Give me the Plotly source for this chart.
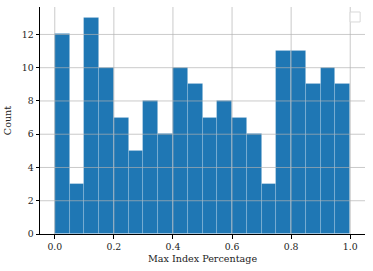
import numpy as np
import plotly.graph_objects as go

# histogram of max index percentage, 20 bins over [0, 1]
bin_edges = np.linspace(0, 1, 21)
counts = [12, 3, 13, 10, 7, 5, 8, 6, 10, 9, 7, 8, 7, 6, 3, 11, 11, 9, 10, 9]

x_ticks = [0.0, 0.2, 0.4, 0.6, 0.8, 1.0]
y_ticks = [0, 2, 4, 6, 8, 10, 12]

centers = (bin_edges[:-1] + bin_edges[1:]) / 2
widths = np.diff(bin_edges)

fig = go.Figure()
fig.add_trace(
    go.Bar(
        x=centers,
        y=counts,
        width=widths,
        marker=dict(color="#1f77b4", line=dict(color="rgba(255,255,255,0.2)", width=0.8)),
        showlegend=False,
    )
)

font = dict(family="DejaVu Serif", size=9.3, color="#222")
axis_common = dict(
    showline=True,
    linecolor="black",
    linewidth=1,
    ticks="outside",
    ticklen=3.5,
    tickwidth=0.8,
    tickcolor="black",
    showgrid=False,
    zeroline=False,
    automargin=False,
    tickfont=font,
)

fig.update_layout(
    width=373,
    height=271,
    margin=dict(l=40, r=8, t=7, b=37),
    plot_bgcolor="white",
    paper_bgcolor="white",
    font=font,
    bargap=0,
    xaxis=dict(
        axis_common,
        range=[-0.05, 1.05],
        tickvals=x_ticks,
        ticktext=[f"{t:.1f}" for t in x_ticks],
        title=dict(text="Max Index Percentage", font=dict(font, size=9.6), standoff=4),
    ),
    yaxis=dict(
        axis_common,
        range=[0, 13.65],
        tickvals=y_ticks,
        title=dict(text="Count", font=dict(font, size=9.6), standoff=8),
    ),
)

# grid drawn above the bars, matplotlib style
grid = dict(color="rgba(176,176,176,0.85)", width=0.8)
for t in x_ticks:
    fig.add_shape(type="line", xref="x", yref="paper", x0=t, x1=t, y0=0, y1=1,
                  line=grid, layer="above")
for t in y_ticks[1:]:
    fig.add_shape(type="line", xref="paper", yref="y", x0=0, x1=1, y0=t, y1=t,
                  line=grid, layer="above")

# empty legend box in the corner
fig.add_shape(
    type="rect",
    xref="paper",
    yref="paper",
    x0=0.954,
    x1=0.985,
    y0=0.934,
    y1=0.978,
    line=dict(color="#d8d8d8", width=1),
    fillcolor="white",
)

fig.write_html(
    "out.html",
    config={"displayModeBar": False},
    post_script="document.body.style.margin='0';",
)
